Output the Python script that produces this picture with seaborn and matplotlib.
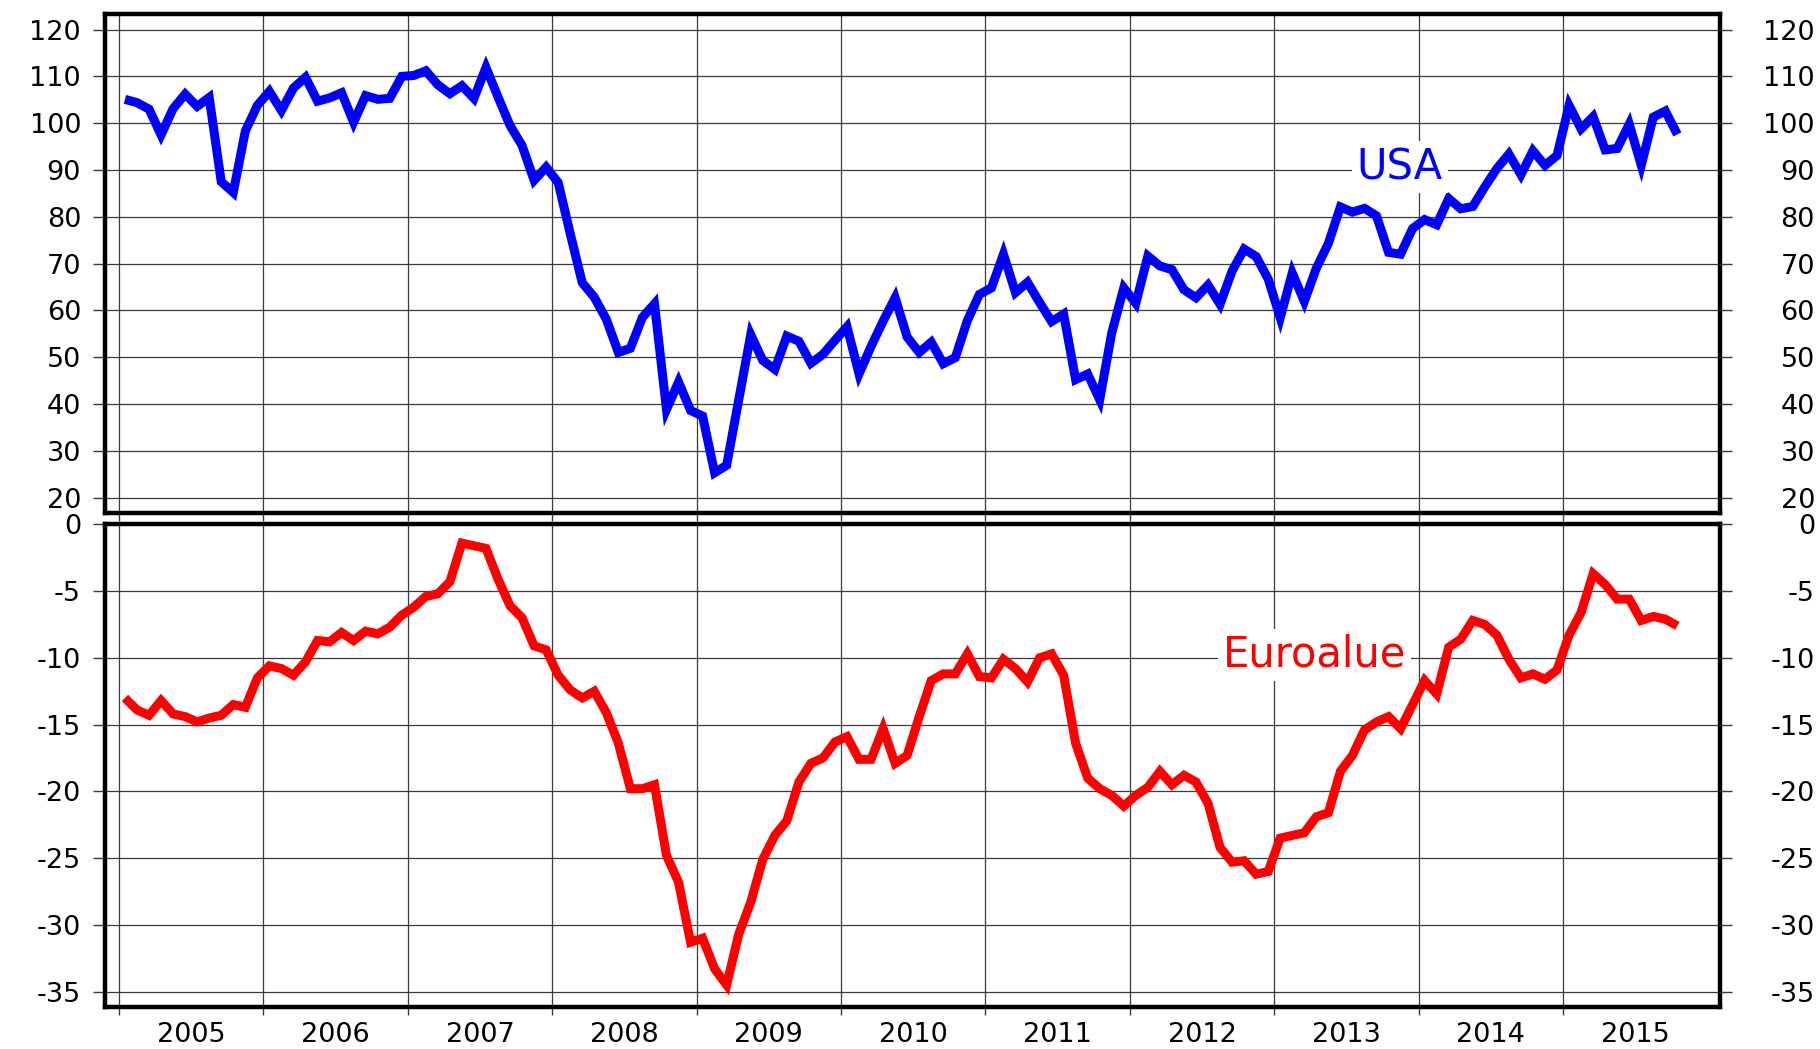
import numpy as np
import pandas as pd
import matplotlib
matplotlib.use("Agg")
import matplotlib.pyplot as plt
import seaborn as sns

# ---------------- data (monthly, Jan 2005 .. Oct 2015) ----------------
years = list(range(2005, 2016))
usa_2005 = [105.1, 104.4, 103.0, 97.5, 103.1, 106.2, 103.6, 105.5, 87.5, 85.2, 98.3, 103.8]
usa_2006 = [106.8, 102.7, 107.5, 109.8, 104.7, 105.4, 106.5, 100.2, 105.9, 105.1, 105.3, 110.0]
usa_2007 = [110.2, 111.2, 108.2, 106.3, 108.0, 105.3, 111.9, 105.6, 99.5, 95.2, 87.8, 90.6]
usa_2008 = [87.3, 76.4, 65.9, 62.8, 58.1, 51.0, 51.9, 58.5, 61.4, 38.8, 44.7, 38.6]
usa_2009 = [37.4, 25.3, 26.9, 40.8, 54.8, 49.3, 47.4, 54.5, 53.4, 48.7, 50.6, 53.6]
usa_2010 = [56.5, 46.4, 52.3, 57.7, 62.7, 54.3, 51.0, 53.2, 48.6, 49.9, 57.8, 63.4]
usa_2011 = [64.8, 72.0, 63.8, 66.0, 61.7, 57.6, 59.2, 45.2, 46.4, 40.9, 55.2, 64.8]
usa_2012 = [61.5, 71.6, 69.5, 68.7, 64.4, 62.7, 65.4, 61.3, 68.4, 73.1, 71.5, 66.7]
usa_2013 = [58.4, 68.0, 61.9, 69.0, 74.3, 82.1, 81.0, 81.8, 80.2, 72.4, 72.0, 77.5]
usa_2014 = [79.4, 78.3, 83.9, 81.7, 82.2, 86.4, 90.3, 93.4, 89.0, 94.1, 91.0, 93.1]
usa_2015 = [103.8, 98.8, 101.4, 94.3, 94.6, 99.8, 91.0, 101.3, 102.6, 97.6]

euro_2005 = [-13.0, -13.9, -14.3, -13.2, -14.2, -14.4, -14.8, -14.5, -14.3, -13.5, -13.7, -11.5]
euro_2006 = [-10.6, -10.8, -11.3, -10.3, -8.7, -8.8, -8.1, -8.7, -8.0, -8.2, -7.7, -6.8]
euro_2007 = [-6.2, -5.4, -5.2, -4.3, -1.4, -1.6, -1.8, -4.1, -6.1, -7.0, -9.1, -9.4]
euro_2008 = [-11.3, -12.4, -13.0, -12.5, -14.1, -16.4, -19.8, -19.8, -19.5, -24.8, -26.8, -31.3]
euro_2009 = [-31.0, -33.3, -34.5, -30.7, -28.3, -25.1, -23.3, -22.2, -19.3, -17.9, -17.5, -16.3]
euro_2010 = [-15.9, -17.6, -17.6, -15.3, -17.9, -17.3, -14.4, -11.7, -11.2, -11.2, -9.7, -11.4]
euro_2011 = [-11.5, -10.1, -10.8, -11.8, -10.0, -9.7, -11.3, -16.4, -19.0, -19.8, -20.3, -21.1]
euro_2012 = [-20.3, -19.7, -18.5, -19.5, -18.8, -19.3, -20.9, -24.2, -25.3, -25.2, -26.2, -26.0]
euro_2013 = [-23.5, -23.3, -23.1, -21.9, -21.6, -18.5, -17.3, -15.4, -14.8, -14.4, -15.3, -13.5]
euro_2014 = [-11.7, -12.7, -9.2, -8.6, -7.2, -7.5, -8.3, -10.1, -11.5, -11.2, -11.6, -10.9]
euro_2015 = [-8.3, -6.6, -3.7, -4.5, -5.6, -5.6, -7.2, -6.9, -7.1, -7.6]

usa_ticks = list(range(20, 121, 10))
euro_ticks = list(range(-35, 1, 5))
year_labels = [str(y) for y in years]
label_usa = "USA"
label_euro = "Euroalue"

usa = sum([usa_2005, usa_2006, usa_2007, usa_2008, usa_2009, usa_2010,
           usa_2011, usa_2012, usa_2013, usa_2014, usa_2015], [])
euro = sum([euro_2005, euro_2006, euro_2007, euro_2008, euro_2009, euro_2010,
            euro_2011, euro_2012, euro_2013, euro_2014, euro_2015], [])
n = len(usa)
t = 2005 + (np.arange(n) + 0.5) / 12.0
df = pd.DataFrame({"t": t, "usa": usa, "euro": euro})

# ---------------- style ----------------
sns.set_style("white")
plt.rcParams["font.family"] = ["DejaVu Sans"]

W, H = 1820, 1049
fig = plt.figure(figsize=(W / 100, H / 100), dpi=100)

left = 104.5 / W
width = (1720 - 104.5) / W
ax1 = fig.add_axes([left, 1 - 512.5 / H, width, (512.5 - 13.7) / H])
ax2 = fig.add_axes([left, 1 - 1007 / H, width, (1007 - 523.7) / H])

XL = (2004.90, 2016.087)
grid_kw = dict(color="#3a3a3a", linewidth=0.9)
TFS = 19.5

def style_axis(ax, ylim, yticks, show_years):
    ax.set_xlim(*XL)
    ax.set_ylim(*ylim)
    ax.set_yticks(yticks)
    ax.set_yticklabels([str(v) for v in yticks])
    ax.set_xticks(years)
    ax.set_xticklabels([])
    ax.grid(True, which="major", **grid_kw)
    ax.set_axisbelow(True)
    for s in ax.spines.values():
        s.set_linewidth(3.2)
        s.set_color("black")
        s.set_visible(True)
    ax.tick_params(axis="y", which="major", direction="out", length=8.6,
                   width=1.0, color="#3a3a3a", labelsize=TFS, pad=8.3,
                   labelcolor="black", left=True, labelleft=True)
    ax.tick_params(axis="x", which="major", direction="out", length=6,
                   width=1.0, color="#3a3a3a", bottom=True)
    if show_years:
        ax.set_xticks([y + 0.5 for y in years], minor=True)
        ax.set_xticklabels(year_labels, minor=True)
        ax.tick_params(axis="x", which="minor", length=0, labelsize=TFS,
                       labelcolor="black", pad=11)
    ax.set_xlabel("")
    ax.set_ylabel("")
    # right-side labels via twin axis
    tw = ax.twinx()
    tw.set_ylim(*ylim)
    tw.set_yticks(yticks)
    tw.set_yticklabels([str(v) for v in yticks])
    tw.grid(False)
    for s in tw.spines.values():
        s.set_visible(False)
    tw.tick_params(axis="y", direction="out", length=8.6, width=1.0,
                   color="#3a3a3a", labelsize=TFS, labelcolor="black", pad=59.8)
    for lab in tw.get_yticklabels():
        lab.set_horizontalalignment("right")
    return tw

sns.lineplot(data=df, x="t", y="usa", ax=ax1, color="#0000ff", linewidth=6.5,
             solid_joinstyle="miter", solid_capstyle="butt")
sns.lineplot(data=df, x="t", y="euro", ax=ax2, color="#ff0000", linewidth=6.5,
             solid_joinstyle="miter", solid_capstyle="butt")

style_axis(ax1, (16.8, 123.4), usa_ticks, False)
style_axis(ax2, (-36.15, 0.05), euro_ticks, True)

box = dict(boxstyle="square,pad=0.12", facecolor="white", edgecolor="none")
ax1.text(2013.87, 90.6, label_usa, color="#0000ff", fontsize=30,
         ha="center", va="center", bbox=box, zorder=5)
ax2.text(2013.28, -9.75, label_euro, color="#ff0000", fontsize=30,
         ha="center", va="center", bbox=box, zorder=5)

fig.savefig("out.png", dpi=100, facecolor="white")
